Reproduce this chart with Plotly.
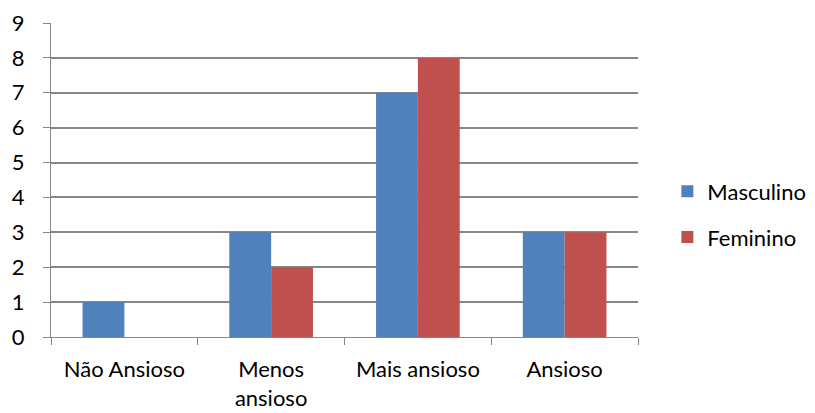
import plotly.graph_objects as go

categories = ["Não Ansioso", "Menos<br>ansioso", "Mais ansioso", "Ansioso"]
masculino = [1, 3, 7, 3]
feminino = [0, 2, 8, 3]
y_ticks = list(range(0, 10))

font_family = "Lato, 'Open Sans', sans-serif"

fig = go.Figure()
fig.add_trace(go.Bar(
    x=categories, y=masculino, name="Masculino",
    marker=dict(color="#4F81BD", line=dict(width=0)),
    legendgroup="m",
))
fig.add_trace(go.Bar(
    x=categories, y=feminino, name="Feminino",
    marker=dict(color="#C0504D", line=dict(width=0)),
    legendgroup="f",
))

fig.update_layout(
    width=815, height=413,
    margin=dict(l=51, r=177, t=23, b=76, autoexpand=False),
    paper_bgcolor="white", plot_bgcolor="white",
    barmode="group", bargap=0.43, bargroupgap=0,
    font=dict(family=font_family, size=22, color="#000000"),
    showlegend=True,
    legend=dict(
        x=1.05, y=0.39, xanchor="left", yanchor="middle",
        traceorder="grouped", tracegroupgap=14,
        font=dict(size=22), itemwidth=30,
    ),
)
fig.update_xaxes(
    type="category", tickson="boundaries", automargin=False,
    ticks="outside", ticklen=7, tickcolor="#868686",
    showline=True, linecolor="#868686", linewidth=1,
    showgrid=False, tickfont=dict(size=22),
    ticklabelstandoff=13,
)
fig.update_yaxes(
    range=[0, 9], tickvals=y_ticks, automargin=False,
    ticks="outside", ticklen=7, tickcolor="#868686",
    showline=True, linecolor="#868686", linewidth=1,
    showgrid=True, gridcolor="#868686", gridwidth=1.5,
    zeroline=False, tickfont=dict(size=22),
    ticklabelstandoff=14,
)

fig.write_html("out.html")
